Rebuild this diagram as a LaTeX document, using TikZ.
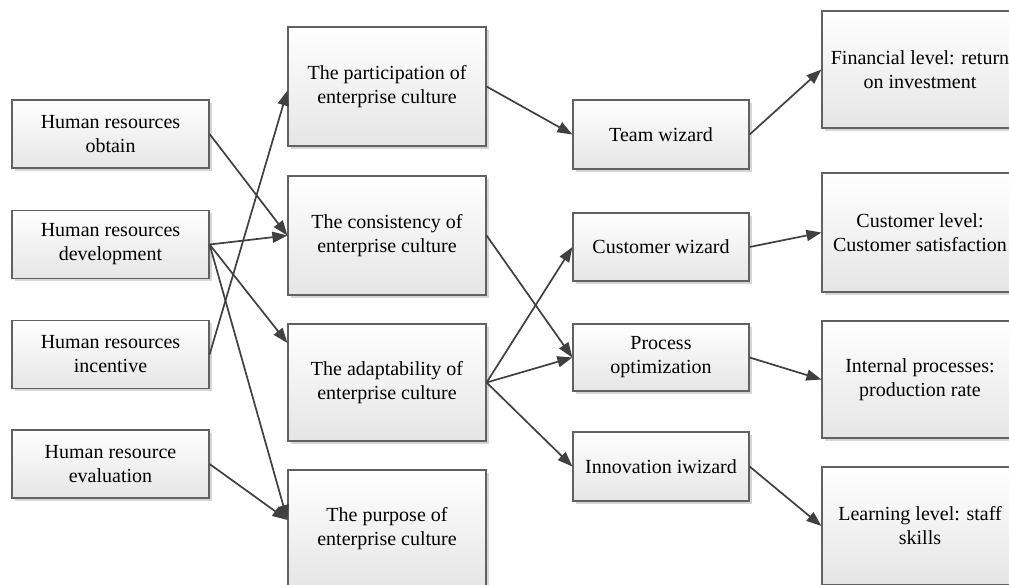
\documentclass[tikz,border=0pt]{standalone}
\usepackage{fontspec}
\setmainfont{Liberation Serif}
\usetikzlibrary{arrows.meta,shadows}
\tikzset{
  box/.style={draw=black!62, line width=1.2pt, top color=white, bottom color=black!10,
    drop shadow={shadow xshift=2.5pt, shadow yshift=-2.5pt, fill=black!16, opacity=1},
    align=center, inner sep=0pt, text=black,
    font=\fontsize{20}{24}\selectfont},
  lbox/.style={box, minimum width=197pt, minimum height=68pt},
  mbox/.style={box, minimum width=198pt, minimum height=118pt},
  tbox/.style={box, minimum width=176pt, minimum height=68pt},
  rbox/.style={box, minimum width=196pt, minimum height=117pt},
  conn/.style={draw=black!75, line width=1.7pt, -{Triangle[length=15pt,width=11pt]}}
}
\begin{document}
\begin{tikzpicture}[x=1pt,y=-1pt]
\useasboundingbox (0,0) rectangle (1009,584);
\clip (0,0) rectangle (1009,584);
\fill[white] (0,0) rectangle (1009,584);
% left column
\node[lbox] (L1) at (110.5,134) {Human resources\\obtain};
\node[lbox] (L2) at (110.5,244.5) {Human resources\\development};
\node[lbox] (L3) at (110.5,354.5) {Human resources\\incentive};
\node[lbox] (L4) at (110.5,464) {Human resource\\evaluation};
% middle column
\node[mbox, minimum height=119pt] (M1) at (387,86.5) {The participation of\\enterprise culture};
\node[mbox, minimum height=119pt] (M2) at (387,235.5) {The consistency of\\enterprise culture};
\node[mbox, minimum height=117pt] (M3) at (387,382.5) {The adaptability of\\enterprise culture};
\node[mbox] (M4) at (387,529) {The purpose of\\enterprise culture};
% third column
\node[tbox, minimum height=69pt] (T1) at (661,134.5) {Team wizard};
\node[tbox] (T2) at (661,247) {Customer wizard};
\node[tbox, minimum height=67pt] (T3) at (661,357.5) {Process\\optimization};
\node[tbox, minimum height=69pt] (T4) at (661,466.5) {Innovation iwizard};
% right column
\node[rbox] (R1) at (920,69.5) {Financial level: return\\on investment};
\node[rbox, minimum height=119pt] (R2) at (920,232.5) {Customer level:\\Customer satisfaction};
\node[rbox] (R3) at (920,379.5) {Internal processes:\\production rate};
\node[rbox, minimum height=118pt] (R4) at (920,526) {Learning level: staff\\skills};
% connectors left -> middle
\draw[conn] (L1.east) -- (M2.west);
\draw[conn] (L2.east) -- (M2.west);
\draw[conn] (L2.east) -- ([yshift=39.5pt]M3.west);
\draw[conn] (L2.east) -- ([yshift=9pt]M4.west);
\draw[conn] (L3.east) -- ([yshift=-4pt]M1.west);
\draw[conn] (L4.east) -- ([yshift=9pt]M4.west);
% middle -> third
\draw[conn] (M1.east) -- (T1.west);
\draw[conn] (M2.east) -- (T3.west);
\draw[conn] (M3.east) -- (T2.west);
\draw[conn] (M3.east) -- (T3.west);
\draw[conn] (M3.east) -- (T4.west);
% third -> right
\draw[conn] (T1.east) -- (R1.west);
\draw[conn] (T2.east) -- (R2.west);
\draw[conn] (T3.east) -- (R3.west);
\draw[conn] (T4.east) -- (R4.west);
\end{tikzpicture}
\end{document}
